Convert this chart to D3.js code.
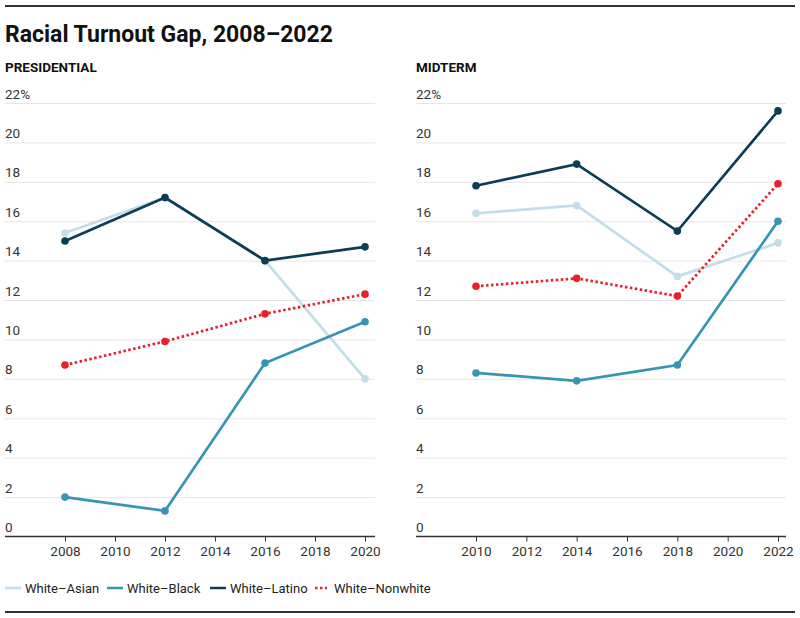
<!DOCTYPE html>
<html>
<head>
<meta charset="utf-8">
<script src="https://cdn.jsdelivr.net/npm/d3@7"></script>
<style>
  html, body { margin: 0; padding: 0; background: #fff; }
  svg { display: block; font-family: Roboto, "Noto Sans", sans-serif; }
</style>
</head>
<body>
<svg id="chart" width="800" height="618"></svg>
<script>
// ---- Data ----
const seriesNames = ["White–Asian", "White–Black", "White–Latino", "White–Nonwhite"];
const seriesColors = ["#c3dde9", "#3795b3", "#0c3d56", "#e8202a"];

const presYears = [2008, 2012, 2016, 2020];
const presAsian = [15.4, 17.2, 14.0, 8.0];
const presBlack = [2.0, 1.3, 8.8, 10.9];
const presLatino = [15.0, 17.2, 14.0, 14.7];
const presNonwhite = [8.7, 9.9, 11.3, 12.3];

const midYears = [2010, 2014, 2018, 2022];
const midAsian = [16.4, 16.8, 13.2, 14.9];
const midBlack = [8.3, 7.9, 8.7, 16.0];
const midLatino = [17.8, 18.9, 15.5, 21.6];
const midNonwhite = [12.7, 13.1, 12.2, 17.9];

const yTicks = [0, 2, 4, 6, 8, 10, 12, 14, 16, 18, 20, 22];
const presXTicks = [2008, 2010, 2012, 2014, 2016, 2018, 2020];
const midXTicks = [2010, 2012, 2014, 2016, 2018, 2020, 2022];

// ---- Drawing ----
const svg = d3.select("#chart");

svg.append("line").attr("x1", 5).attr("x2", 795).attr("y1", 6).attr("y2", 6)
  .attr("stroke", "#333").attr("stroke-width", 2);
svg.append("line").attr("x1", 5).attr("x2", 795).attr("y1", 612).attr("y2", 612)
  .attr("stroke", "#333").attr("stroke-width", 2);

svg.append("text").attr("x", 5).attr("y", 41.5)
  .attr("font-size", 23).attr("font-weight", 700).attr("fill", "#111")
  .text("Racial Turnout Gap, 2008–2022");

const y = d3.scaleLinear().domain([0, 22]).range([536.5, 103]);

function panel(title, left, right, years, xTicks, seriesVals, xa, xb) {
  const g = svg.append("g");
  const x = d3.scaleLinear().domain([years[0], years[years.length - 1]]).range([xa, xb]);

  g.append("text").attr("x", left).attr("y", 72)
    .attr("font-size", 13.5).attr("font-weight", 700).attr("fill", "#111")
    .text(title);

  // grid
  const yAxis = d3.axisRight(y).tickValues(yTicks).tickSize(right - left)
    .tickFormat(d => d === 22 ? "22%" : d);
  const ga = g.append("g").attr("transform", `translate(${left},0)`).call(yAxis);
  ga.select(".domain").remove();
  ga.selectAll(".tick line").attr("stroke", "#e6e6e6").attr("stroke-width", 1);
  ga.selectAll(".tick text").attr("x", 0).attr("dy", -5)
    .attr("text-anchor", "start").attr("font-size", 13.5).attr("fill", "#333")
    .attr("font-family", "Roboto, sans-serif");
  ga.selectAll(".tick").filter(d => d === 0).select("line").remove();

  // x axis
  const xAxis = d3.axisBottom(x).tickValues(xTicks).tickFormat(d3.format("d"))
    .tickSize(5).tickSizeOuter(0);
  const gx = g.append("g").attr("transform", `translate(0,${y(0)})`).call(xAxis);
  gx.select(".domain").remove();
  gx.insert("line", ":first-child").attr("x1", left).attr("x2", right)
    .attr("y1", 0).attr("y2", 0).attr("stroke", "#333").attr("stroke-width", 1.5);
  gx.selectAll(".tick line").attr("stroke", "#333");
  gx.selectAll(".tick text").attr("font-size", 13.5).attr("fill", "#333")
    .attr("y", 10).attr("font-family", "Roboto, sans-serif");

  const line = d3.line().x(d => x(d[0])).y(d => y(d[1]));
  seriesVals.forEach((vals, i) => {
    const pts = years.map((yr, j) => [yr, vals[j]]);
    const path = g.append("path").datum(pts).attr("d", line)
      .attr("fill", "none").attr("stroke", seriesColors[i])
      .attr("stroke-width", 2.7);
    if (i === 3) path.attr("stroke-dasharray", "2.5,2.5");
    g.selectAll(null).data(pts).enter().append("circle")
      .attr("cx", d => x(d[0])).attr("cy", d => y(d[1])).attr("r", 3.8)
      .attr("fill", seriesColors[i]);
  });
}

panel("PRESIDENTIAL", 5, 375, presYears, presXTicks,
  [presAsian, presBlack, presLatino, presNonwhite], 65, 365);
panel("MIDTERM", 416, 786, midYears, midXTicks,
  [midAsian, midBlack, midLatino, midNonwhite], 476, 778);

// legend
const legendX = [5, 107, 210, 315];
const legend = svg.append("g");
seriesNames.forEach((name, i) => {
  const lx = legendX[i];
  const sw = i === 3 ? 12 : 16;
  const ln = legend.append("line").attr("x1", lx).attr("x2", lx + sw)
    .attr("y1", 588).attr("y2", 588).attr("stroke", seriesColors[i])
    .attr("stroke-width", 2.5);
  if (i === 3) ln.attr("stroke-dasharray", "2.5,2.5");
  legend.append("text").attr("x", lx + sw + (i === 3 ? 7 : 4)).attr("y", 592.5)
    .attr("font-size", 13).attr("fill", "#222").text(name);
});
</script>
</body>
</html>
